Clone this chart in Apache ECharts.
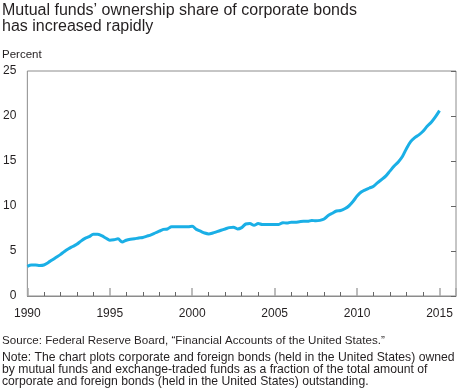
<!DOCTYPE html>
<html>
<head>
<meta charset="utf-8">
<script src="https://cdn.jsdelivr.net/npm/echarts@6/dist/echarts.min.js"></script>
<style>
html,body{margin:0;padding:0;background:#fff;}
#chart{width:460px;height:390px;}
</style>
</head>
<body>
<div id="chart"></div>
<script>
// Quarter dates (decimal years) and ownership share values (percent)
var dates = [
  1990.00,1990.25,1990.50,1990.75,1991.00,1991.25,1991.50,1991.75,
  1992.00,1992.25,1992.50,1992.75,1993.00,1993.25,1993.50,1993.75,
  1994.00,1994.25,1994.50,1994.75,1995.00,1995.25,1995.50,1995.75,
  1996.00,1996.25,1996.50,1996.75,1997.00,1997.25,1997.50,1997.75,
  1998.00,1998.25,1998.50,1998.75,1999.00,1999.25,1999.50,1999.75,
  2000.00,2000.25,2000.50,2000.75,2001.00,2001.25,2001.50,2001.75,
  2002.00,2002.25,2002.50,2002.75,2003.00,2003.25,2003.50,2003.75,
  2004.00,2004.25,2004.50,2004.75,2005.00,2005.25,2005.50,2005.75,
  2006.00,2006.25,2006.50,2006.75,2007.00,2007.25,2007.50,2007.75,
  2008.00,2008.25,2008.50,2008.75,2009.00,2009.25,2009.50,2009.75,
  2010.00,2010.25,2010.50,2010.75,2011.00,2011.25,2011.50,2011.75,
  2012.00,2012.25,2012.50,2012.75,2013.00,2013.25,2013.50,2013.75,
  2014.00,2014.25,2014.50,2014.75,2015.00
];
var shares = [
  3.30,3.45,3.45,3.40,3.45,3.70,4.00,4.30,
  4.60,4.95,5.25,5.50,5.75,6.10,6.40,6.60,
  6.85,6.85,6.70,6.45,6.20,6.25,6.35,6.00,
  6.20,6.30,6.35,6.45,6.50,6.65,6.80,7.00,
  7.20,7.40,7.45,7.70,7.70,7.70,7.70,7.70,
  7.75,7.40,7.20,7.00,6.90,7.00,7.15,7.30,
  7.45,7.60,7.65,7.45,7.60,8.00,8.05,7.85,
  8.05,7.95,7.95,7.95,7.95,7.95,8.15,8.10,
  8.20,8.20,8.25,8.30,8.30,8.40,8.35,8.40,
  8.55,8.95,9.20,9.45,9.50,9.70,10.00,10.50,
  11.10,11.55,11.80,12.00,12.20,12.60,12.95,13.35,
  13.90,14.45,14.90,15.50,16.40,17.15,17.60,17.90,
  18.30,18.85,19.30,19.90,20.60
];
var yearTickLabels = ['1990','1995','2000','2005','2010','2015'];
var titleLines = ['Mutual funds\u2019 ownership share of corporate bonds', 'has increased rapidly'];
var unitLabel = 'Percent';
var sourceText = 'Source: Federal Reserve Board, \u201cFinancial Accounts of the United States.\u201d';
var noteLines = [
  'Note: The chart plots corporate and foreign bonds (held in the United States) owned',
  'by mutual funds and exchange-traded funds as a fraction of the total amount of',
  'corporate and foreign bonds (held in the United States) outstanding.'
];

var FONT = 'Liberation Sans, Arial, sans-serif';
var TXT = '#231f20';

var seriesData = dates.map(function (d, i) { return [d, shares[i]]; });

function txt(text, x, y, size) {
  return {
    type: 'text', x: x, y: y, silent: true,
    style: { text: text, fontSize: size, fontFamily: FONT, fill: TXT, align: 'left', verticalAlign: 'middle' }
  };
}

var chart = echarts.init(document.getElementById('chart'), null, { renderer: 'canvas' });
chart.setOption({
  animation: false,
  backgroundColor: '#ffffff',
  grid: {
    left: 24, right: 4, top: 71, bottom: 94,
    show: true, borderColor: '#8c8c8c', borderWidth: 1, backgroundColor: 'transparent'
  },
  xAxis: {
    type: 'value', min: 1990, max: 2016, interval: 5,
    axisLine: { show: true, lineStyle: { color: '#8c8c8c', width: 1 } },
    axisTick: { show: true, inside: true, length: 8, lineStyle: { color: '#a6a6a6', width: 1.5 } },
    minorTick: { show: true, splitNumber: 5, length: 4, lineStyle: { color: '#666', width: 1 } },
    splitLine: { show: false },
    axisLabel: {
      margin: 12, fontSize: 12, fontFamily: FONT, color: TXT,
      showMaxLabel: false,
      formatter: function (v) {
        var s = String(Math.round(v));
        return yearTickLabels.indexOf(s) >= 0 ? s : '';
      }
    }
  },
  yAxis: [
    {
      type: 'value', min: 0, max: 25, interval: 5, position: 'left',
      axisLine: { show: false },
      axisTick: { show: false },
      splitLine: { show: false },
      axisLabel: { margin: 11, fontSize: 12, fontFamily: FONT, color: TXT }
    },
    {
      type: 'value', min: 0, max: 25, interval: 5, position: 'right',
      axisLine: { show: false },
      axisTick: { show: true, inside: true, length: 5, lineStyle: { color: '#666', width: 1 } },
      splitLine: { show: false },
      axisLabel: { show: false }
    }
  ],
  series: [{
    type: 'line',
    yAxisIndex: 0,
    data: seriesData,
    showSymbol: false,
    smooth: 0.3,
    lineStyle: { color: '#1aafe6', width: 3 },
    itemStyle: { color: '#1aafe6' }
  }],
  graphic: [
    txt(titleLines[0], 2, 10.5, 16),
    txt(titleLines[1], 2, 26.5, 16),
    txt(unitLabel, 2, 55, 11.5),
    txt(sourceText, 2, 340.5, 11.6),
    txt(noteLines[0], 2, 357.5, 12.2),
    txt(noteLines[1], 2, 369.5, 12.2),
    txt(noteLines[2], 2, 381.5, 12.2)
  ]
});
</script>
</body>
</html>
